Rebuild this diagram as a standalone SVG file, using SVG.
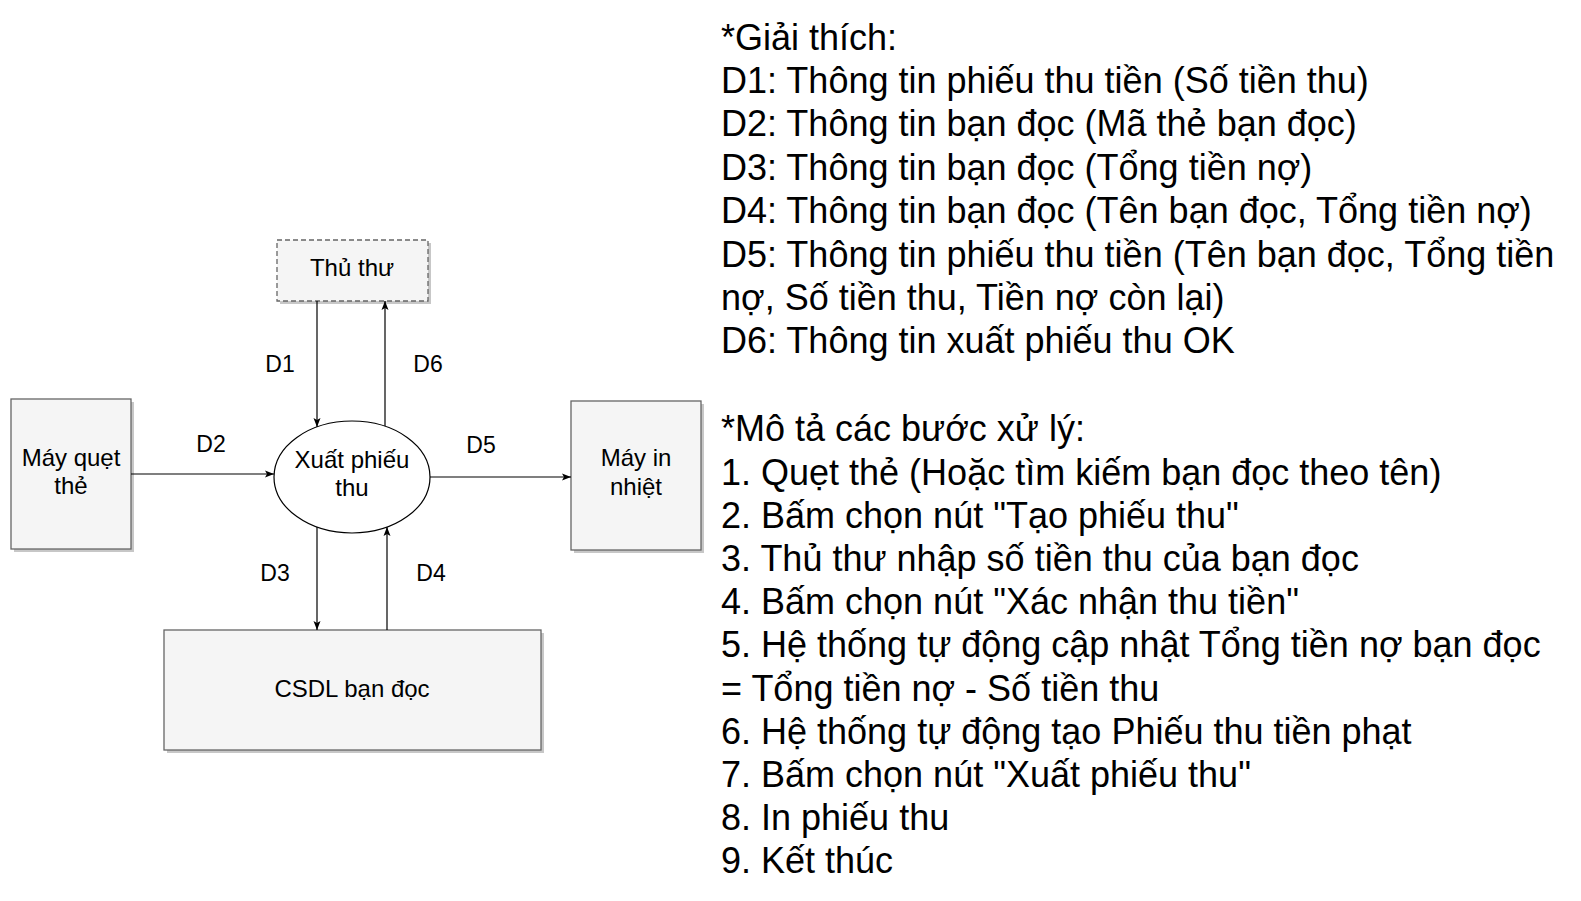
<svg xmlns="http://www.w3.org/2000/svg" width="1581" height="901" viewBox="0 0 1581 901">
<style>
.box{fill:#f5f5f5;stroke:#666666;stroke-width:1.3}
.dash{stroke-dasharray:5 3}
.shadow{fill:#000;opacity:0.22}
.lbl{font-family:"Liberation Sans",Arial,sans-serif;font-size:23px;fill:#000;text-anchor:middle}
.nt{font-size:24px}
.conn{stroke:#000;stroke-width:1.2;fill:none;marker-end:url(#arr)}
.note{font-family:"Liberation Sans",Arial,sans-serif;font-size:36px;fill:#000}
</style>
<defs>
<marker id="arr" markerUnits="userSpaceOnUse" markerWidth="10" markerHeight="8" refX="9" refY="4" orient="auto">
<path d="M0,0.5 L9,4 L0,7.5 L2,4 z" fill="#000"/>
</marker>
</defs>
<rect width="1581" height="901" fill="#fff"/>
<g id="thu-thu">
<rect class="shadow" x="280" y="243" width="151" height="61"/>
<rect class="box dash" x="277" y="240" width="151" height="61"/>
<text class="lbl nt" x="352" y="276">Thủ thư</text>
</g>
<g id="may-quet-the">
<rect class="shadow" x="14" y="402" width="120" height="150"/>
<rect class="box" x="11" y="399" width="120" height="150"/>
<text class="lbl nt" x="71" y="466">Máy quẹt</text>
<text class="lbl nt" x="71" y="494">thẻ</text>
</g>
<g id="xuat-phieu-thu">
<ellipse cx="352" cy="477" rx="78" ry="56" fill="#fff" stroke="#000" stroke-width="1.2"/>
<text class="lbl nt" x="352" y="468">Xuất phiếu</text>
<text class="lbl nt" x="352" y="496">thu</text>
</g>
<g id="may-in-nhiet">
<rect class="shadow" x="574" y="404" width="130" height="149"/>
<rect class="box" x="571" y="401" width="130" height="149"/>
<text class="lbl nt" x="636" y="466">Máy in</text>
<text class="lbl nt" x="636" y="495">nhiệt</text>
</g>
<g id="csdl-ban-doc">
<rect class="shadow" x="167" y="633" width="377" height="120"/>
<rect class="box" x="164" y="630" width="377" height="120"/>
<text class="lbl nt" x="352" y="697">CSDL bạn đọc</text>
</g>
<g id="connectors">
<line class="conn" x1="317" y1="301" x2="317" y2="427"/>
<line class="conn" x1="385" y1="426" x2="385" y2="301"/>
<line class="conn" x1="131" y1="474" x2="274" y2="474"/>
<line class="conn" x1="430" y1="477" x2="571" y2="477"/>
<line class="conn" x1="317" y1="527" x2="317" y2="630"/>
<line class="conn" x1="387" y1="630" x2="387" y2="527"/>
<text class="lbl" x="280" y="372">D1</text>
<text class="lbl" x="428" y="372">D6</text>
<text class="lbl" x="211" y="452">D2</text>
<text class="lbl" x="481" y="453">D5</text>
<text class="lbl" x="275" y="581">D3</text>
<text class="lbl" x="431" y="581">D4</text>
</g>
<g id="notes">
<text class="note" x="721" y="49.5">*Giải thích:</text>
<text class="note" x="721" y="92.9">D1: Thông tin phiếu thu tiền (Số tiền thu)</text>
<text class="note" x="721" y="136.3">D2: Thông tin bạn đọc (Mã thẻ bạn đọc)</text>
<text class="note" x="721" y="179.7">D3: Thông tin bạn đọc (Tổng tiền nợ)</text>
<text class="note" x="721" y="223.1">D4: Thông tin bạn đọc (Tên bạn đọc, Tổng tiền nợ)</text>
<text class="note" x="721" y="266.5">D5: Thông tin phiếu thu tiền (Tên bạn đọc, Tổng tiền</text>
<text class="note" x="721" y="309.9">nợ, Số tiền thu, Tiền nợ còn lại)</text>
<text class="note" x="721" y="353.3">D6: Thông tin xuất phiếu thu OK</text>
<text class="note" x="721" y="441.3">*Mô tả các bước xử lý:</text>
<text class="note" x="721" y="484.5">1. Quẹt thẻ (Hoặc tìm kiếm bạn đọc theo tên)</text>
<text class="note" x="721" y="527.7">2. Bấm chọn nút "Tạo phiếu thu"</text>
<text class="note" x="721" y="570.9">3. Thủ thư nhập số tiền thu của bạn đọc</text>
<text class="note" x="721" y="614.1">4. Bấm chọn nút "Xác nhận thu tiền"</text>
<text class="note" x="721" y="657.3">5. Hệ thống tự động cập nhật Tổng tiền nợ bạn đọc</text>
<text class="note" x="721" y="700.5">= Tổng tiền nợ - Số tiền thu</text>
<text class="note" x="721" y="743.7">6. Hệ thống tự động tạo Phiếu thu tiền phạt</text>
<text class="note" x="721" y="786.9">7. Bấm chọn nút "Xuất phiếu thu"</text>
<text class="note" x="721" y="830.1">8. In phiếu thu</text>
<text class="note" x="721" y="873.3">9. Kết thúc</text>
</g>
</svg>
